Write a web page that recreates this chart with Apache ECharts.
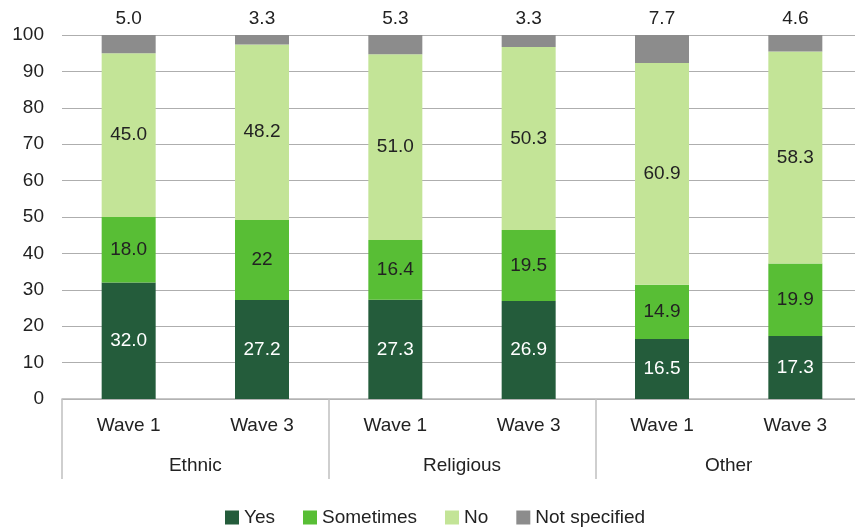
<!DOCTYPE html>
<html>
<head>
<meta charset="utf-8">
<script src="https://cdn.jsdelivr.net/npm/echarts@6/dist/echarts.min.js"></script>
<style>
  html, body { margin: 0; padding: 0; background: #fff; }
  #chart { width: 855px; height: 529px; }
</style>
</head>
<body>
<div id="chart"></div>
<script>
// Survey responses by group and wave (percent)
const waves = ['Wave 1', 'Wave 3', 'Wave 1', 'Wave 3', 'Wave 1', 'Wave 3'];
const groups = ['Ethnic', 'Religious', 'Other'];
const yesValues = [32.0, 27.2, 27.3, 26.9, 16.5, 17.3];
const sometimesValues = [18.0, 22, 16.4, 19.5, 14.9, 19.9];
const noValues = [45.0, 48.2, 51.0, 50.3, 60.9, 58.3];
const notSpecifiedValues = [5.0, 3.3, 5.3, 3.3, 7.7, 4.6];
const sometimesLabels = ['18.0', '22', '16.4', '19.5', '14.9', '19.9'];

const FONT = '"Liberation Sans", Arial, sans-serif';
const FS = 19;
const fmt = v => Number(v).toFixed(1);

const chart = echarts.init(document.getElementById('chart'));

function seg(name, data, color, labelColor, formatter, position) {
  return {
    name,
    type: 'bar',
    stack: 'total',
    barWidth: 54,
    data,
    itemStyle: { color },
    label: {
      show: true,
      position: position || 'inside',
      color: labelColor,
      fontFamily: FONT,
      fontSize: FS,
      distance: 7,
      formatter
    }
  };
}

chart.setOption({
  animation: false,
  textStyle: { fontFamily: FONT },
  // the last group runs slightly past the right edge of the canvas
  grid: { left: 62, width: 800, top: 35, bottom: 130, containLabel: false, outerBoundsMode: 'none' },
  legend: {
    bottom: -3,
    left: 220,
    itemWidth: 14,
    itemHeight: 14,
    itemGap: 28,
    icon: 'rect',
    textStyle: { fontFamily: FONT, fontSize: FS, color: '#222' },
    data: ['Yes', 'Sometimes', 'No', 'Not specified']
  },
  xAxis: [
    {
      type: 'category',
      data: waves,
      position: 'bottom',
      axisLine: { show: true, lineStyle: { color: '#b5b5b5', width: 1.5 } },
      axisTick: { show: false },
      axisLabel: { fontFamily: FONT, fontSize: FS, color: '#222', margin: 17 }
    },
    {
      type: 'category',
      data: groups,
      position: 'bottom',
      axisLine: { show: false },
      axisTick: { show: true, length: 80, lineStyle: { color: '#c0c0c0', width: 1.5 } },
      axisLabel: { fontFamily: FONT, fontSize: FS, color: '#222', margin: 57 }
    }
  ],
  yAxis: {
    type: 'value',
    min: 0,
    max: 100,
    interval: 10,
    axisLine: { show: false },
    axisTick: { show: false },
    axisLabel: { fontFamily: FONT, fontSize: FS, color: '#222', margin: 18 },
    splitLine: { lineStyle: { color: '#aeaeae', width: 1.2 } }
  },
  series: [
    seg('Yes', yesValues, '#245c3b', '#ffffff', p => fmt(p.value)),
    seg('Sometimes', sometimesValues, '#58be35', '#222', p => sometimesLabels[p.dataIndex]),
    seg('No', noValues, '#c3e497', '#222', p => fmt(p.value)),
    seg('Not specified', notSpecifiedValues, '#8c8c8c', '#222', p => fmt(p.value), 'top')
  ]
});
</script>
</body>
</html>
